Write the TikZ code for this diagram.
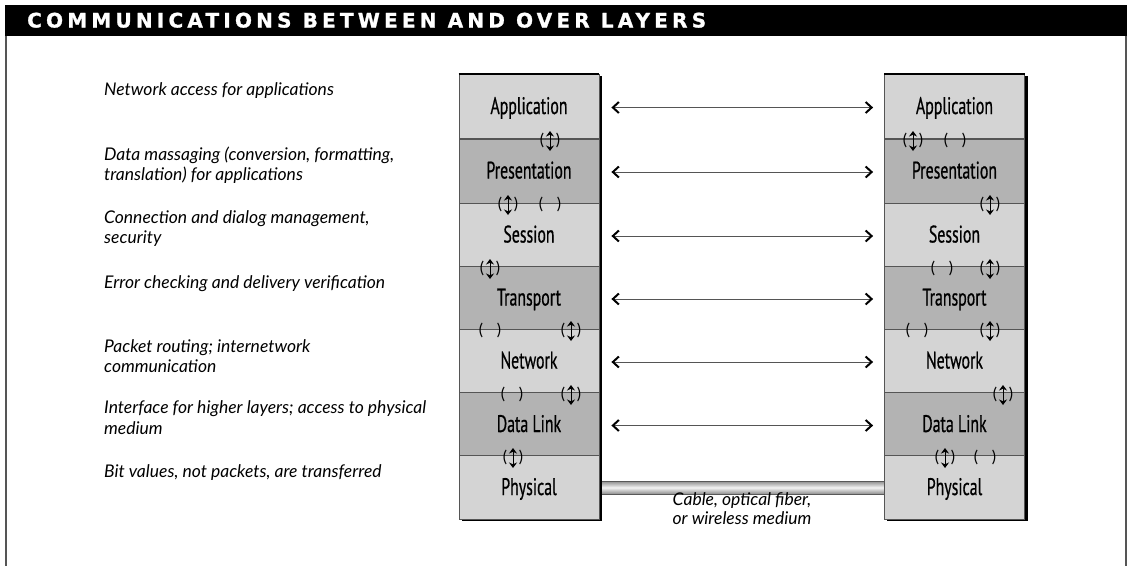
\documentclass[tikz,border=0pt]{standalone}
\usepackage{fontspec}
\setmainfont{Lato}
\newfontfamily\layerfont[FakeStretch=0.66,FakeBold=0.6]{PT Sans}
\newfontfamily\titlefont[LetterSpace=21,FakeBold=1.2]{DejaVu Sans}
\usetikzlibrary{arrows.meta}
\definecolor{lightlay}{HTML}{D4D4D4}
\definecolor{darklay}{HTML}{B3B3B3}
\definecolor{framegray}{HTML}{555555}
\tikzset{
  desc/.style={anchor=base west, inner sep=0pt, font=\fontsize{17.5}{20}\selectfont\itshape},
  layer/.style={draw=framegray, line width=0.8pt, minimum width=140pt, minimum height=64pt,
    inner sep=0pt, text height=17.5pt, text depth=2.5pt, font=\layerfont\fontsize{24}{26}\selectfont},
  paren/.style={inner sep=0pt, font=\fontsize{16}{16}\selectfont},
  link/.style={draw=framegray, line width=0.9pt, shorten <=12pt, shorten >=11pt,
    >={Straight Barb[length=6pt,width=11pt,line width=2pt,color=black]}, <->},
  updown/.pic={
    \node[paren] at (-8,-1) {(};
    \node[paren] at (8,-1) {)};
    \draw[line width=1pt, {Stealth[length=5.5pt,width=8pt]}-{Stealth[length=5.5pt,width=8pt]}] (0,-10) -- (0,10);
  },
  emptyp/.pic={
    \node[paren] at (-9,0) {(};
    \node[paren] at (9,0) {)};
  }
}
\begin{document}
\begin{tikzpicture}[x=1pt,y=-1pt]
\useasboundingbox (0,0) rectangle (1129,566);
% frame
\fill[black] (5,5) rectangle (1127,36);
\draw[framegray, line width=2pt] (6,36) -- (6,566);
\draw[framegray, line width=2pt] (1126,36) -- (1126,566);
\node[anchor=base west, inner sep=0pt, text=white, font=\titlefont\bfseries\fontsize{20}{20}\selectfont] (title) at (27,27.5) {COMMUNICATIONS BETWEEN AND OVER LAYERS};

% descriptions
\node[desc] (d1) at (104,95) {Network access for applications};
\node[desc] (d2a) at (104,160) {Data massaging (conversion, formatting,};
\node[desc] (d2b) at (104,180) {translation) for applications};
\node[desc] (d3a) at (104,223) {Connection and dialog management,};
\node[desc] (d3b) at (104,243) {security};
\node[desc] (d4) at (104,288) {Error checking and delivery verification};
\node[desc] (d5a) at (104,352) {Packet routing; internetwork};
\node[desc] (d5b) at (104,372) {communication};
\node[desc] (d6a) at (104,413) {Interface for higher layers; access to physical};
\node[desc] (d6b) at (104,434) {medium};
\node[desc] (d7) at (104,477) {Bit values, not packets, are transferred};

% cable tube (behind stacks)
\shade[top color=gray!90, bottom color=gray!90, middle color=gray!8] (600,481) rectangle (885,494);
\draw[gray!70!black, line width=0.6pt] (600,481) -- (885,481) (600,494) -- (885,494);

% shadows
\fill[black] (462,76) rectangle (602,521);
\fill[black] (887,76) rectangle (1028,521);

% stacks
\foreach \s/\x in {L/529, R/954.5} {
  \node[layer, fill=lightlay] (\s App) at (\x,106.5) {Application};
  \node[layer, fill=darklay]  (\s Pre) at (\x,171) {Presentation};
  \node[layer, fill=lightlay] (\s Ses) at (\x,235) {Session};
  \node[layer, fill=darklay]  (\s Tra) at (\x,298) {Transport};
  \node[layer, fill=lightlay] (\s Net) at (\x,361) {Network};
  \node[layer, fill=darklay]  (\s Dat) at (\x,424.5) {Data Link};
  \node[layer, fill=lightlay] (\s Phy) at (\x,487.5) {Physical};
  \draw[black, line width=1.6pt] (\s App.north west) -- (\s App.north east);
}

% peer links
\foreach \n in {App,Pre,Ses,Tra,Net,Dat} {
  \draw[link] ([yshift=-1pt]L\n.east) -- ([yshift=-1pt]R\n.west);
}

% cable caption
\node[anchor=base, inner sep=0pt, font=\fontsize{17.5}{20}\selectfont\itshape] (cap1) at (742,505) {Cable, optical fiber,};
\node[anchor=base, inner sep=0pt, font=\fontsize{17.5}{20}\selectfont\itshape] (cap2) at (742,524) {or wireless medium};

% interface symbols, left stack
\pic at (550,141) {updown};
\pic at (508,205) {updown};
\pic at (550,204) {emptyp};
\pic at (490,269) {updown};
\pic at (490,330) {emptyp};
\pic at (571,331) {updown};
\pic at (512,394) {emptyp};
\pic at (571,395) {updown};
\pic at (513,458) {updown};
% right stack
\pic at (913,141) {updown};
\pic at (955,140) {emptyp};
\pic at (990,205) {updown};
\pic at (942,268) {emptyp};
\pic at (990,269) {updown};
\pic at (917,330) {emptyp};
\pic at (990,331) {updown};
\pic at (1003,395) {updown};
\pic at (945,458) {updown};
\pic at (985,457) {emptyp};
\end{tikzpicture}
\end{document}
